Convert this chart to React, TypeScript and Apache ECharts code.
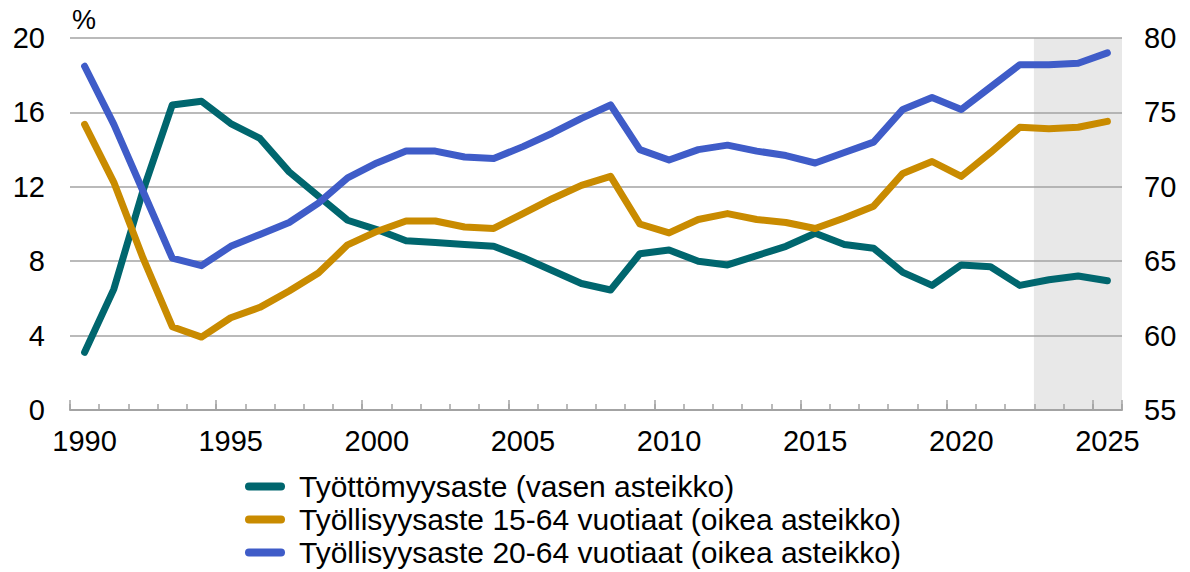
import React, { useEffect, useRef } from "react";
import * as echarts from "echarts";

const years: string[] = [];
for (let y = 1990; y <= 2025; y++) years.push(String(y));

const forecastStart = 2023;

const unemployment = [
  3.1, 6.5, 11.8, 16.4, 16.6, 15.4, 14.6, 12.8, 11.5, 10.2,
  9.7, 9.1, 9.0, 8.9, 8.8, 8.2, 7.5, 6.8, 6.45, 8.4,
  8.6, 8.0, 7.8, 8.3, 8.8, 9.5, 8.9, 8.7, 7.4, 6.7,
  7.8, 7.7, 6.7, 7.0, 7.2, 6.95,
];

const employment1564 = [
  74.2, 70.3, 65.2, 60.6, 59.9, 61.2, 61.9, 63.0, 64.2, 66.1,
  67.0, 67.7, 67.7, 67.3, 67.2, 68.2, 69.2, 70.1, 70.7, 67.5,
  66.9, 67.8, 68.2, 67.8, 67.6, 67.2, 67.9, 68.7, 70.9, 71.7,
  70.7, 72.3, 74.0, 73.9, 74.0, 74.4,
];

const employment2064 = [
  78.1, 74.2, 69.7, 65.2, 64.7, 66.0, 66.8, 67.6, 68.9, 70.6,
  71.6, 72.4, 72.4, 72.0, 71.9, 72.7, 73.6, 74.6, 75.5, 72.5,
  71.8, 72.5, 72.8, 72.4, 72.1, 71.6, 72.3, 73.0, 75.2, 76.0,
  75.2, 76.7, 78.2, 78.2, 78.3, 79.0,
];

const seriesNames = [
  "Työttömyysaste (vasen asteikko)",
  "Työllisyysaste 15-64 vuotiaat (oikea asteikko)",
  "Työllisyysaste 20-64 vuotiaat (oikea asteikko)",
];

const colors = ["#00666e", "#c98b00", "#3f5cc8"];

const FONT = "'Liberation Sans', Arial, sans-serif";
const GRID_COLOR = "#a3a3a3";
const SHADE = "#e8e8e8";

export default function App() {
  const ref = useRef<HTMLDivElement>(null);

  useEffect(() => {
    document.body.style.margin = "0";
    if (!ref.current) return;
    const chart = echarts.init(ref.current, undefined, { renderer: "svg" });

    const shade = years.map((y) => (Number(y) >= forecastStart ? 20 : null));
    const pill = "path://M4,0 H36 A4,4 0 0 1 36,8 H4 A4,4 0 0 1 4,0 Z";

    chart.setOption({
      animation: false,
      textStyle: { fontFamily: FONT },
      grid: { left: 70, right: 68, top: 38, bottom: 162 },
      graphic: [
        {
          type: "text",
          left: 72,
          top: 6,
          style: { text: "%", fontSize: 27, fontFamily: FONT, fill: "#000" },
        },
      ],
      legend: {
        data: seriesNames,
        orient: "vertical",
        left: 245,
        top: 470,
        padding: 0,
        itemWidth: 40,
        itemHeight: 8,
        itemGap: 0,
        icon: pill,
        textStyle: {
          fontSize: 30,
          fontFamily: FONT,
          color: "#000",
          lineHeight: 33,
          padding: [0, 0, 0, 9],
        },
      },
      xAxis: [
        {
          type: "category",
          data: years,
          boundaryGap: true,
          axisLine: { lineStyle: { color: GRID_COLOR, width: 2 } },
          axisTick: {
            show: true,
            interval: 0,
            inside: true,
            length: 6,
            lineStyle: { color: GRID_COLOR, width: 1.5 },
          },
          axisLabel: {
            interval: 4,
            fontSize: 29,
            color: "#000",
            margin: 16,
            fontFamily: FONT,
          },
        },
        {
          type: "category",
          data: years,
          boundaryGap: true,
          position: "bottom",
          axisLine: { show: false },
          axisTick: {
            show: true,
            interval: 4,
            inside: true,
            length: 10,
            lineStyle: { color: GRID_COLOR, width: 1.5 },
          },
          axisLabel: { show: false },
        },
      ],
      yAxis: [
        {
          type: "value",
          min: 0,
          max: 20,
          interval: 4,
          axisLine: { show: false },
          axisTick: { show: false },
          splitLine: { lineStyle: { color: GRID_COLOR, width: 1.5 } },
          axisLabel: { fontSize: 29, color: "#000", margin: 25, fontFamily: FONT },
        },
        {
          type: "value",
          min: 55,
          max: 80,
          interval: 5,
          position: "right",
          axisLine: { show: false },
          axisTick: { show: false },
          splitLine: { show: false },
          axisLabel: { fontSize: 29, color: "#000", margin: 22, fontFamily: FONT },
        },
      ],
      series: [
        {
          name: "forecast",
          type: "bar",
          xAxisIndex: 0,
          yAxisIndex: 0,
          data: shade,
          barCategoryGap: "0%",
          barWidth: "103%",
          itemStyle: { color: SHADE },
          silent: true,
          z: -1,
        },
        {
          name: seriesNames[0],
          type: "line",
          yAxisIndex: 0,
          data: unemployment,
          showSymbol: false,
          color: colors[0],
          lineStyle: { width: 7, color: colors[0], cap: "round", join: "round" },
          z: 3,
        },
        {
          name: seriesNames[1],
          type: "line",
          yAxisIndex: 1,
          data: employment1564,
          showSymbol: false,
          color: colors[1],
          lineStyle: { width: 7, color: colors[1], cap: "round", join: "round" },
          z: 3,
        },
        {
          name: seriesNames[2],
          type: "line",
          yAxisIndex: 1,
          data: employment2064,
          showSymbol: false,
          color: colors[2],
          lineStyle: { width: 7, color: colors[2], cap: "round", join: "round" },
          z: 3,
        },
      ],
    });

    return () => chart.dispose();
  }, []);

  return <div ref={ref} style={{ width: 1190, height: 572 }} />;
}
